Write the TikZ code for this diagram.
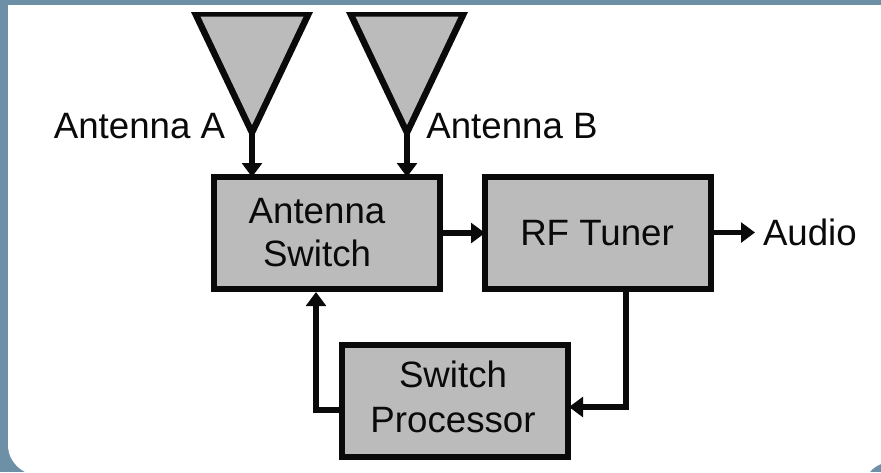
\documentclass[tikz,border=0pt]{standalone}
\usepackage{fontspec}
\setmainfont{Liberation Sans}
\usetikzlibrary{arrows.meta,calc}
\definecolor{framecol}{HTML}{6D90A6}
\definecolor{boxgray}{HTML}{BBBBBB}
\definecolor{inkcol}{HTML}{0A0A0A}
\tikzset{
  blockbox/.style={draw=inkcol,fill=boxgray,line width=4.5pt,minimum width=169.5pt,minimum height=84pt,inner sep=0pt,outer sep=0pt,shape=rectangle},
  antennaouter/.style={fill=inkcol},
  antennainner/.style={fill=boxgray},
  txt/.style={font=\fontsize{27.5pt}{32pt}\selectfont,text=inkcol,inner sep=0pt,outer sep=0pt,anchor=base},
  flow/.style={draw=inkcol,line width=4.4pt,-{Triangle[width=14.8pt,length=10.5pt]}},
}
\begin{document}
\begin{tikzpicture}[x=0.75pt,y=-0.75pt]
\useasboundingbox (0,0) rectangle (881,472);
\fill[framecol] (0,0) rectangle (881,472);
\fill[white] (8,5) -- (881,5) -- (881,464) .. controls (876,466) and (872,469) .. (870,472) -- (25,472) .. controls (14,466) and (8,456) .. (8,445) -- cycle;
% blocks
\node[blockbox] (sw) at (327,233) {};
\node[blockbox] (rf) at (598,233) {};
\node[blockbox] (proc) at (455,401) {};
% antennas
\coordinate (apexA) at (252,127);
\coordinate (apexB) at (407,127);
\fill[antennaouter] (191,12) -- (313,12) -- (252,140) -- cycle;
\fill[antennainner] (200.5,16.5) -- (303.5,16.5) -- (252,125) -- cycle;
\fill[antennaouter] (346,12) -- (468,12) -- (407,140) -- cycle;
\fill[antennainner] (355.5,16.5) -- (458.5,16.5) -- (407,125) -- cycle;
% labels
\node[txt] (lblA) at (139.5,138) {Antenna A};
\node[txt] (lblB) at (512,138) {Antenna B};
\node[txt] (lblSw1) at (317,223) {Antenna};
\node[txt] (lblSw2) at (317,266) {Switch};
\node[txt] (lblRf) at (597,245) {RF Tuner};
\node[txt] (lblP1) at (453,387) {Switch};
\node[txt] (lblP2) at (453,432) {Processor};
\node[txt,anchor=base west] (audio) at (763,245) {Audio};
\coordinate (audioIn) at (755,232.5);
\coordinate (swFeed) at (316,292);
% connectors
\draw[flow] (apexA) -- (apexA |- sw.north);
\draw[flow] (apexB) -- (apexB |- sw.north);
\draw[flow] (sw.east) -- (rf.west);
\draw[flow] (rf.east |- audioIn) -- (audioIn);
\draw[flow,line width=4.1pt] (626,292) |- ($(proc.east)+(1,6)$);
\draw[flow,line width=4.1pt] ($(proc.west)+(0,9)$) -| (swFeed);
\end{tikzpicture}
\end{document}
